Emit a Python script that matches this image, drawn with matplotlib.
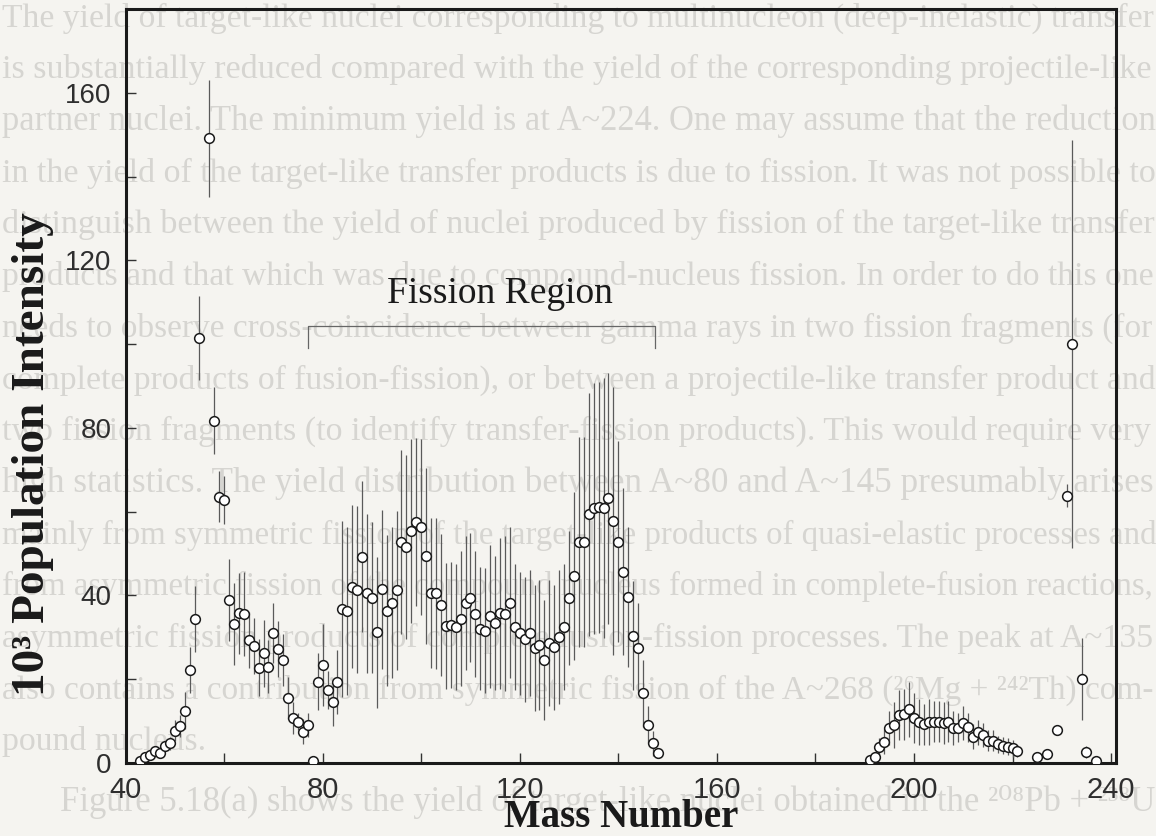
import matplotlib
matplotlib.use("Agg")
import matplotlib.pyplot as plt
from matplotlib.ticker import MultipleLocator, FixedLocator

# Mass yield distribution: mass number, population intensity (x10^3) and uncertainty
mass = [43, 44, 45, 46, 47, 48, 49, 50, 51, 52, 53, 54, 55, 57, 58, 59, 60,
        61, 62, 63, 64, 65, 66, 67, 68, 69, 70, 71, 72, 73, 74, 75, 76, 77, 78,
        79, 80, 81, 82, 83, 84, 85, 86, 87, 88, 89, 90, 91, 92, 93, 94, 95,
        96, 97, 98, 99, 100, 101, 102, 103, 104, 105, 106, 107, 108, 109, 110,
        111, 112, 113, 114, 115, 116, 117, 118, 119, 120, 121, 122, 123, 124,
        125, 126, 127, 128, 129, 130, 131, 132, 133, 134, 135, 136, 137, 138,
        139, 140, 141, 142, 143, 144, 145, 146, 147, 148,
        191, 192, 193, 194, 195, 196, 197, 198, 199, 200, 201, 202, 203, 204,
        205, 206, 207, 208, 209, 210, 211, 212, 213, 214, 215, 216, 217, 218,
        219, 220, 221, 225, 227, 229, 231, 232, 234, 235, 237]

intensity = [0.5, 1.4, 1.9, 2.9, 2.3, 4.1, 4.7, 7.7, 8.8, 12.5, 22.2, 34.4, 101.4, 149.1, 81.7, 63.6, 62.8,
             38.9, 33.2, 35.7, 35.6, 29.4, 28.0, 22.8, 26.2, 23.0, 31.0, 27.3, 24.7, 15.6, 10.7, 9.9, 7.5, 9.1, 0.5,
             19.4, 23.4, 17.5, 14.5, 19.4, 36.7, 36.3, 42.1, 41.4, 49.3, 40.5, 39.5, 31.2, 41.5, 36.4, 38.3, 41.2,
             52.8, 51.6, 55.4, 57.6, 56.4, 49.4, 40.6, 40.5, 37.7, 32.7, 32.9, 32.5, 34.5, 38.2, 39.5,
             35.5, 32.1, 31.6, 35.0, 33.4, 35.7, 35.6, 38.3, 32.4, 31.0, 29.5, 31.0, 27.4, 28.2,
             24.6, 28.7, 27.6, 30.1, 32.4, 39.5, 44.6, 52.8, 52.8, 59.4, 60.8, 61.0, 60.8, 63.2,
             57.8, 52.8, 45.7, 39.7, 30.4, 27.5, 16.6, 9.1, 4.7, 2.3,
             0.7, 1.5, 3.9, 5.1, 8.4, 9.1, 11.5, 11.6, 12.8, 10.7, 9.9, 9.2, 9.9, 9.9,
             9.9, 9.6, 9.9, 8.3, 8.4, 9.5, 8.5, 6.3, 7.3, 6.7, 5.3, 5.3, 4.5, 4.1,
             3.9, 3.5, 2.9, 1.4, 2.1, 8.0, 63.8, 100.0, 20.0, 2.6, 0.5]

uncertainty = [0.3, 0.5, 0.5, 0.8, 0.7, 1.2, 1.5, 2.5, 2.6, 4.4, 5.5, 7.8, 10.0, 14.0, 8.0, 6.0, 5.8,
               9.8, 9.7, 9.7, 10.0, 6.6, 6.7, 6.8, 8.0, 6.4, 7.1, 6.7, 6.2, 5.0, 3.8, 2.0, 3.0, 2.8, 0.0,
               6.8, 9.9, 4.5, 5.6, 7.6, 21.0, 20.0, 19.5, 20.0, 18.0, 19.0, 18.0, 18.0, 19.0, 18.0, 18.0, 19.0,
               22.0, 22.0, 22.0, 20.0, 21.0, 21.0, 18.0, 18.0, 17.0, 15.0, 15.0, 15.0, 16.0, 16.0, 15.5,
               15.0, 14.7, 15.0, 17.0, 16.0, 18.0, 18.5, 18.0, 15.0, 14.7, 15.0, 15.0, 15.0, 15.5,
               14.3, 15.0, 15.0, 16.0, 15.0, 16.0, 20.0, 25.0, 25.0, 29.0, 30.0, 30.0, 31.0, 30.0,
               32.0, 24.0, 20.0, 16.7, 13.0, 10.7, 8.0, 4.4, 3.0, 1.0,
               0.5, 1.0, 2.0, 3.0, 4.0, 5.5, 6.0, 6.0, 6.5, 6.0, 5.5, 5.0, 5.5, 5.0,
               5.0, 5.0, 5.0, 4.0, 3.5, 4.0, 3.5, 3.0, 3.0, 2.8, 2.5, 2.5, 2.0, 2.0,
               2.0, 2.0, 1.5, 0.3, 0.5, 0.5, 2.8, 48.7, 9.8, 1.5, 0.3]

x_labels = [40, 80, 120, 160, 200, 240]
y_labels = [0, 40, 80, 120, 160]
fission_span = (77.0, 147.4)
fission_text = "Fission Region"

# Body text of the printed page the figure sits on
page_lines = [
    "The yield of target-like nuclei corresponding to multinucleon (deep-inelastic) transfer",
    "is substantially reduced compared with the yield of the corresponding projectile-like",
    "partner nuclei. The minimum yield is at A~224. One may assume that the reduction",
    "in the yield of the target-like transfer products is due to fission. It was not possible to",
    "distinguish between the yield of nuclei produced by fission of the target-like transfer",
    "products and that which was due to compound-nucleus fission. In order to do this one",
    "needs to observe cross-coincidence between gamma rays in two fission fragments (for",
    "complete products of fusion-fission), or between a projectile-like transfer product and",
    "two fission fragments (to identify transfer-fission products). This would require very",
    "high statistics. The yield distribution between A~80 and A~145 presumably arises",
    "mainly from symmetric fission of the target-like products of quasi-elastic processes and",
    "from asymmetric fission of the compound nucleus formed in complete-fusion reactions,",
    "asymmetric fission products of complete fusion-fission processes. The peak at A~135",
    "also contains a contribution from symmetric fission of the A~268 (²⁶Mg + ²⁴²Th) com-",
    "pound nucleus.",
]
page_last = "Figure 5.18(a) shows the yield of target-like nuclei obtained in the ²⁰⁸Pb + ²³⁸U"

paper = "#f5f4f0"
page_ink = "#d6d5d1"
ink = "#1a1a1a"

fig = plt.figure(figsize=(11.56, 8.36), dpi=100)
fig.patch.set_facecolor(paper)

# Faint printed text behind the plot, justified to the page width
renderer = fig.canvas.get_renderer()
pitch = 51.7
sizes = []
for i, line in enumerate(page_lines):
    t = fig.text(2 / 1156, 1 - (18 + pitch * i) / 836, line, ha="left", va="center",
                 family=["Liberation Serif", "DejaVu Serif"], fontsize=21,
                 color=page_ink, zorder=-5)
    if i < len(page_lines) - 1:
        w = t.get_window_extent(renderer).width
        t.set_fontsize(21 * 1150 / w)
        sizes.append(21 * 1150 / w)
    else:
        t.set_fontsize(sum(sizes) / len(sizes))
t = fig.text(60 / 1156, 1 - 802 / 836, page_last, ha="left", va="center",
             family=["Liberation Serif", "DejaVu Serif"], fontsize=21,
             color=page_ink, zorder=-5)
w = t.get_window_extent(renderer).width
t.set_fontsize(21 * 1092 / w)

ax = fig.add_axes([0.1086, 0.0873, 0.8568, 0.9019])
ax.patch.set_visible(False)

ax.errorbar(mass, intensity, yerr=uncertainty, fmt="o", ms=7, mfc="white",
            mec=ink, mew=1.1, ecolor="#5a5a5a", elinewidth=0.9, capsize=0,
            zorder=3)

ax.set_xlim(40, 241)
ax.set_ylim(0, 180)

ax.xaxis.set_major_locator(FixedLocator(x_labels))
ax.xaxis.set_minor_locator(MultipleLocator(20))
ax.yaxis.set_major_locator(FixedLocator(y_labels))
ax.yaxis.set_minor_locator(MultipleLocator(20))

for s in ax.spines.values():
    s.set_linewidth(2.2)
    s.set_color(ink)

ax.tick_params(axis="both", which="both", direction="in", top=False, right=False,
               colors="#333333", width=1.0, length=7)
ax.tick_params(axis="x", which="major", pad=9, labelsize=21, labelcolor="#2e2e2e")
ax.tick_params(axis="y", which="major", pad=10, labelsize=20, labelcolor="#2e2e2e")
for lab in ax.get_xticklabels() + ax.get_yticklabels():
    lab.set_family(["Liberation Sans", "DejaVu Sans"])

ax.set_xlabel("Mass Number", family=["Liberation Serif", "DejaVu Serif"],
              fontweight="bold", fontsize=28, color=ink, labelpad=-3)
ax.set_ylabel("10³ Population Intensity",
              family=["Liberation Serif", "DejaVu Serif"],
              fontweight="bold", fontsize=34, color=ink)
ax.yaxis.set_label_coords(-0.072, 0.41)

# Bracket marking the fission region
x0, x1 = fission_span
ax.plot([x0, x0, x1, x1], [99.0, 104.3, 104.3, 99.0], color="#666666", lw=0.9,
        zorder=2)
ax.text(116, 108, fission_text, ha="center", va="bottom",
        family=["Liberation Serif", "DejaVu Serif"], fontsize=27, color=ink)

fig.savefig("out.png", dpi=100, facecolor=paper)
